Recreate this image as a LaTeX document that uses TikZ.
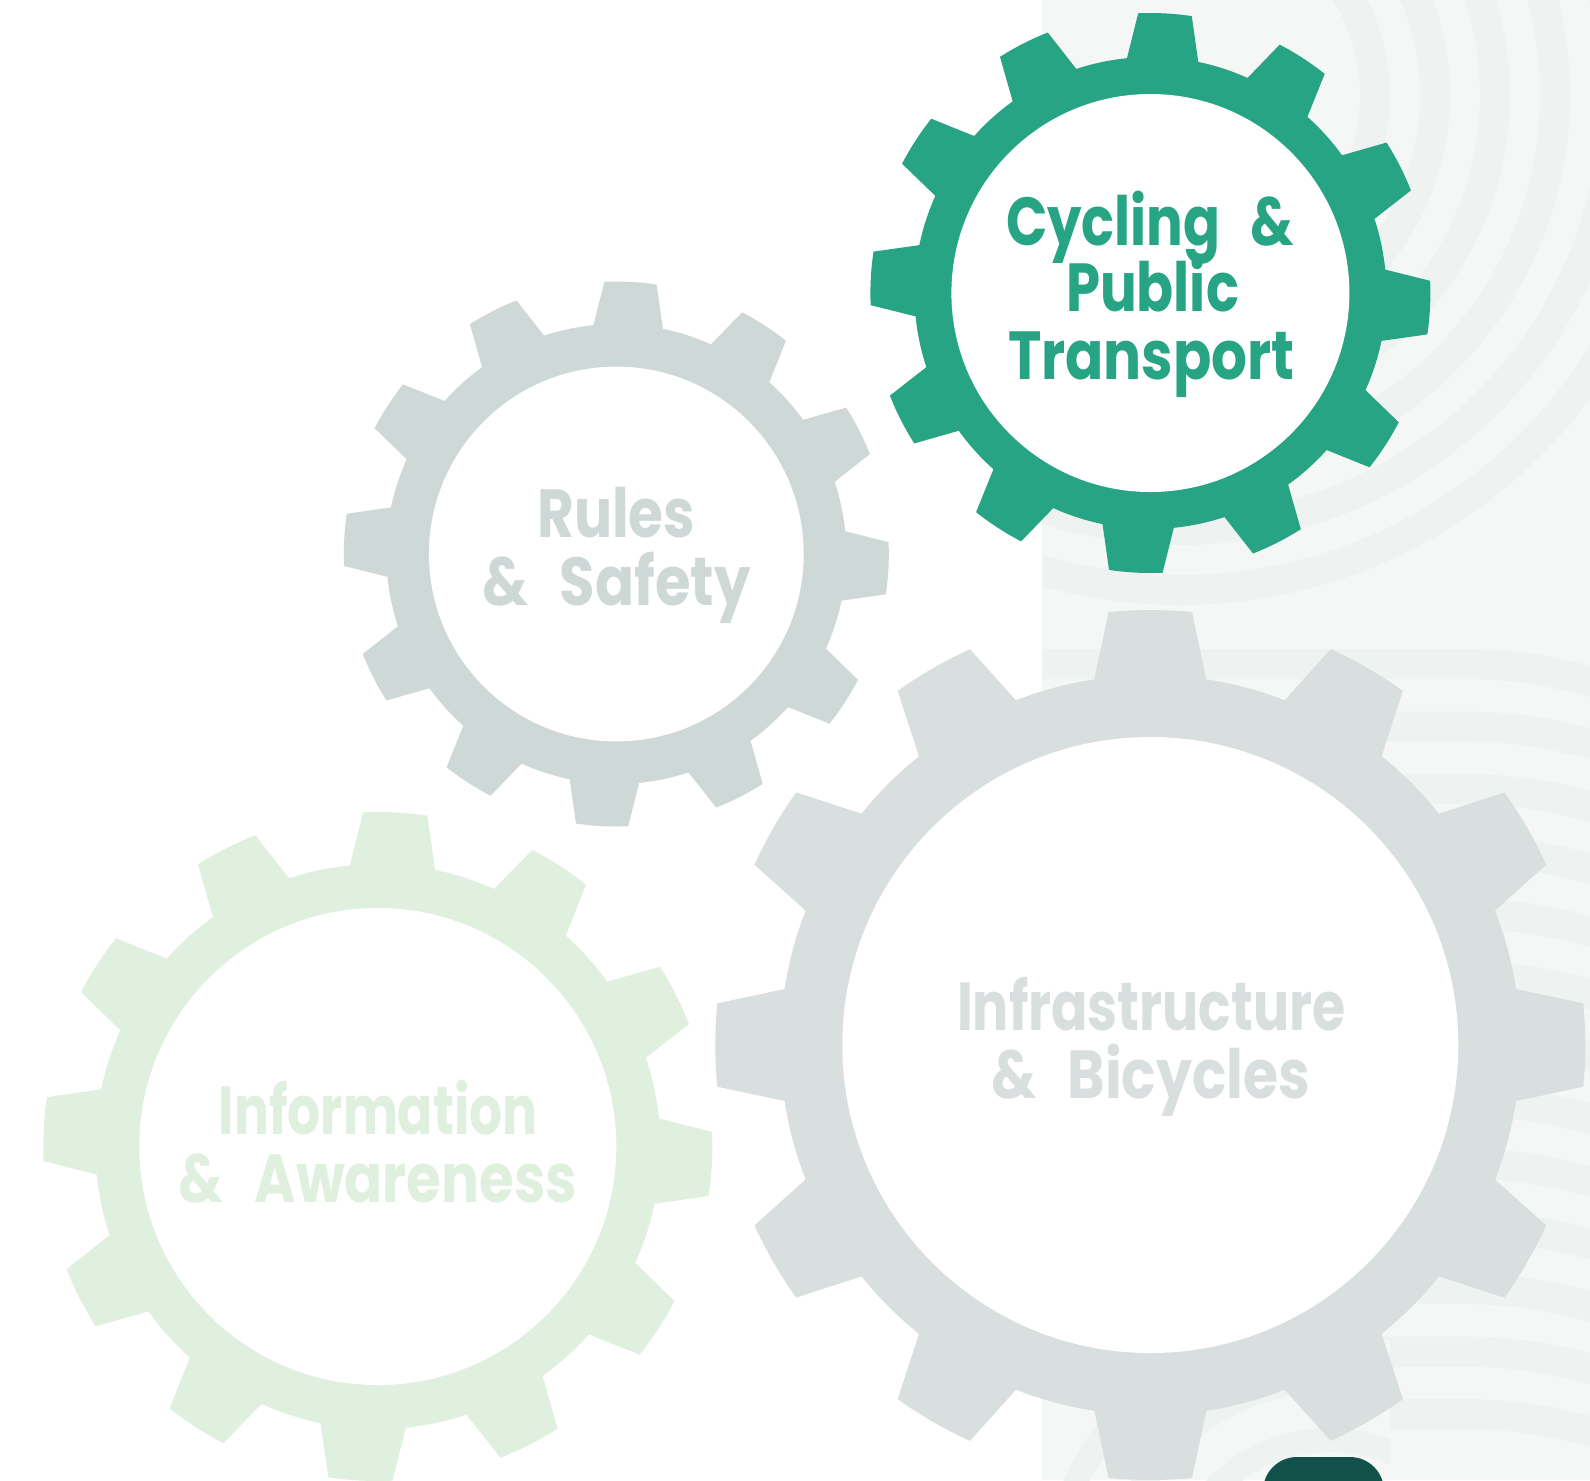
\documentclass[tikz,border=0pt]{standalone}
\usepackage{fontspec}
\usepackage{graphicx}
\newfontfamily\gearfont{Poppins}
\definecolor{cyc}{HTML}{26A483}
\definecolor{rules}{HTML}{CED8D6}
\definecolor{info}{HTML}{DFF0DF}
\definecolor{infra}{HTML}{D8DFDE}
\definecolor{panel}{HTML}{F5F7F6}
\definecolor{stripe}{HTML}{EEF2F1}
\definecolor{darkgreen}{HTML}{12524B}
% #1 colour, #2 cx, #3 cy, #4 tip radius, #5 root radius, #6 rotation, #7 inner radius
\newcommand\drawgear[7]{%
  \fill[#1, shift={(#2,#3)}] (#6-8.7:#5)
    \foreach \k in {0,...,11}{
      -- ({#6+30*\k-5.5}:#4)
      arc[start angle={#6+30*\k-5.5}, end angle={#6+30*\k+5.5}, radius=#4]
      -- ({#6+30*\k+8.7}:#5)
      arc[start angle={#6+30*\k+8.7}, end angle={#6+30*\k+21.3}, radius=#5]
    } -- cycle;
  \fill[white] (#2,#3) circle[radius=#7];
}
\newcommand\wgap{\hspace{0.55em}}
\begin{document}
\begin{tikzpicture}[x=0.5pt,y=-0.5pt,
  lbl/.style={anchor=base, inner sep=0pt, font=\gearfont\bfseries\fontsize{34}{34}\selectfont},
  band/.style={stripe, line width=15pt}]
\useasboundingbox (0,0) rectangle (1590,1480);
\clip (0,0) rectangle (1590,1480);
\fill[white] (0,0) rectangle (1590,1480);
\fill[panel] (1042,0) rectangle (1590,1480);
% background pattern
\begin{scope}
  \clip (1042,0) rectangle (1590,1480);
  \foreach \r in {195,255,...,495} \draw[band] (1180,95) circle[radius=\r];
  \foreach \k in {0,...,12}{
    \pgfmathsetmacro\yy{664+62.5*\k}
    \draw[band] (1042,\yy) -- (1460,\yy) .. controls (1520,\yy) and (1555,\yy+8) .. (1600,\yy+20);
  }
\end{scope}
\begin{scope}
  \clip (1042,1340) rectangle (1390,1480);
  \fill[panel] (1042,1340) rectangle (1390,1480);
  \foreach \r in {160,220,280} \draw[band, line width=12pt] (1330,1600) circle[radius=\r];
\end{scope}
% gears
\coordinate (gcyc) at (1150.4,293);
\coordinate (grul) at (616.3,554);
\coordinate (ginf) at (377.8,1146.5);
\coordinate (gbic) at (1150.3,1045);
\drawgear{infra}{1150.3}{1045}{435}{370}{0}{308}
\drawgear{info}{377.8}{1146.5}{334.5}{282.5}{3}{238.5}
\drawgear{rules}{616.3}{554}{272.5}{230}{3}{187.4}
\drawgear{cyc}{1150.4}{293}{280}{236}{3}{199}
% labels
\node[lbl, text=cyc] (c1) at (1150,245) {\resizebox{144pt}{\height}{Cycling\wgap\&}};
\node[lbl, text=cyc] (c2) at (1152.5,311) {\resizebox{86.5pt}{\height}{Public}};
\node[lbl, text=cyc] (c3) at (1151.3,379) {\resizebox{143.3pt}{\height}{Transport}};
\node[lbl, text=rules] (r1) at (616.3,537.8) {\resizebox{79pt}{\height}{Rules}};
\node[lbl, text=rules] (r2) at (616.3,605.7) {\resizebox{134.3pt}{\height}{\&\wgap Safety}};
\node[lbl, text=info] (i1) at (378.2,1134) {\resizebox{159.4pt}{\height}{Information}};
\node[lbl, text=info] (i2) at (377.8,1202) {\resizebox{199pt}{\height}{\&\wgap Awareness}};
\node[lbl, text=infra] (b1) at (1151.2,1030) {\resizebox{194.2pt}{\height}{Infrastructure}};
\node[lbl, text=infra] (b2) at (1150.5,1098) {\resizebox{159.5pt}{\height}{\&\wgap Bicycles}};
% dark tab at the bottom
\fill[darkgreen, rounded corners=17pt] (1263,1457) rectangle (1384,1540);
\end{tikzpicture}
\end{document}
